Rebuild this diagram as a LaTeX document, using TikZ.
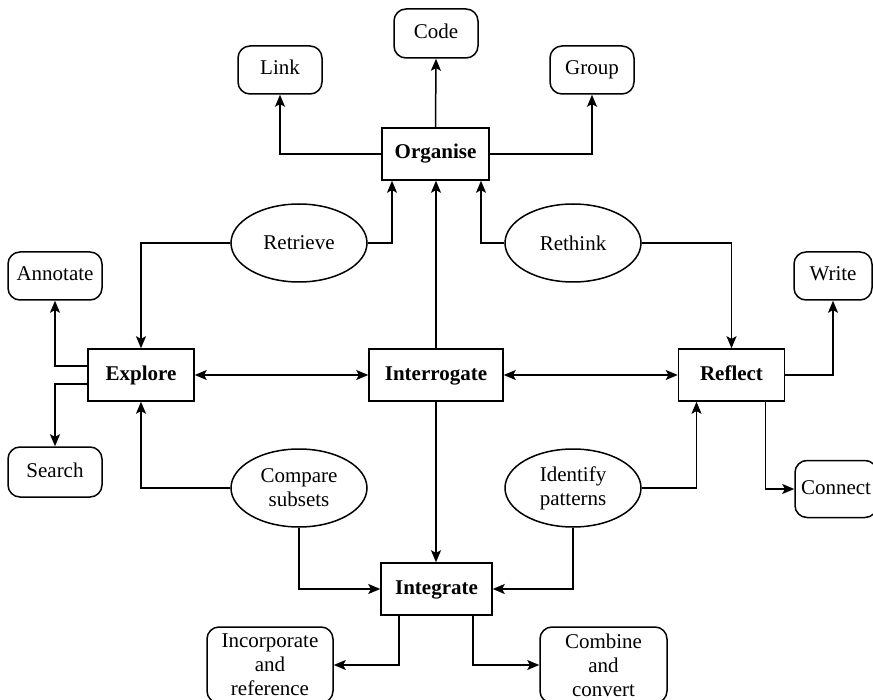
\documentclass[tikz,border=0pt]{standalone}
\usepackage{fontspec}
\setmainfont{Liberation Serif}
\usetikzlibrary{shapes.geometric,arrows.meta}
\begin{document}
\begin{tikzpicture}[x=0.5pt,y=-0.5pt,
  every node/.style={font=\fontsize{10.5}{12}\selectfont, align=center, inner sep=1pt},
  oneline/.style={text height=7.2pt, text depth=2.2pt},
  stage/.style={draw, line width=0.75pt, rectangle, minimum height=26pt, oneline, font=\fontsize{10.5}{12}\selectfont\bfseries},
  action/.style={draw, line width=0.75pt, rounded corners=6pt, minimum height=24pt},
  process/.style={draw, line width=0.75pt, ellipse, minimum width=68pt, minimum height=39pt, inner sep=0pt},
  tip/.tip={Stealth[length=6pt,width=5pt,inset=1.3pt]},
  link/.style={line width=0.75pt, -tip},
  dlink/.style={line width=0.75pt, tip-tip}
]
\useasboundingbox (0,0) rectangle (873,700);

% main stages
\node[stage, minimum width=53.5pt] (organise)    at (435.5,154) {Organise};
\node[stage, minimum width=53pt]   (explore)     at (141,375)   {Explore};
\node[stage, minimum width=67pt]   (interrogate) at (436,375)   {Interrogate};
\node[stage, minimum width=53pt]   (reflect)     at (731.5,375) {Reflect};
\node[stage, minimum width=55.5pt] (integrate)   at (436.5,589) {Integrate};

% actions
\node[action, oneline, minimum width=42pt, minimum height=24.5pt] (code) at (436,33.5) {Code};
\node[action, oneline, minimum width=42pt]   (linkn)    at (280,70)  {Link};
\node[action, oneline, minimum width=42pt]   (group)    at (592,70)  {Group};
\node[action, oneline, minimum width=47pt]   (annotate) at (55,276)  {Annotate};
\node[action, oneline, minimum width=39pt]   (write)    at (833,276) {Write};
\node[action, oneline, minimum width=47pt, minimum height=25pt] (search) at (55,472) {Search};
\node[action, oneline, minimum width=41pt, minimum height=28.5pt] (connect) at (836,489) {Connect};
\node[action, minimum width=63pt, minimum height=38pt] (incorporate) at (270,665) {Incorporate\\and\\reference};
\node[action, minimum width=63.5pt, minimum height=38pt] (combine) at (603.5,665) {Combine\\and\\convert};

% processes
\node[process] (retrieve) at (299,243) {Retrieve};
\node[process] (rethink)  at (573,243) {Rethink};
\node[process] (compare)  at (299,488) {Compare\\subsets};
\node[process] (identify) at (573,488) {Identify\\patterns};

% connectors around Organise
\draw[link] (organise.north) -- (code.south);
\draw[link] (organise.west) -| (linkn.south);
\draw[link] (organise.east) -| (group.south);
\draw[link] (retrieve.west) -| (explore.north);
\draw[link] (retrieve.east) -| ([xshift=-21.75pt]organise.south);
\draw[link] (interrogate.north) -- (interrogate.north |- organise.south);
\draw[link] (rethink.west) -| ([xshift=22.75pt]organise.south);
\draw[link] (rethink.east) -| (reflect.north);

% middle row
\draw[dlink] (explore.east) -- (interrogate.west);
\draw[dlink] (interrogate.east) -- (reflect.west);
\draw[link] (interrogate.south) -- (interrogate.south |- integrate.north);
\draw[link] ([yshift=4.5pt]explore.west) -| (annotate.south);
\draw[link] ([yshift=-4.5pt]explore.west) -| (search.north);
\draw[link] (reflect.east) -| (write.south);
\draw[link] ([xshift=17pt]reflect.south) |- (connect.west);

% connectors around Integrate
\draw[link] (compare.west) -| (explore.south);
\draw[link] (compare.south) |- (integrate.west);
\draw[link] (identify.east) -| ([xshift=-17.5pt]reflect.south);
\draw[link] (identify.south) |- (integrate.east);
\draw[link] ([xshift=-18.75pt]integrate.south) |- (incorporate.east);
\draw[link] ([xshift=18.25pt]integrate.south) |- (combine.west);
\end{tikzpicture}
\end{document}
